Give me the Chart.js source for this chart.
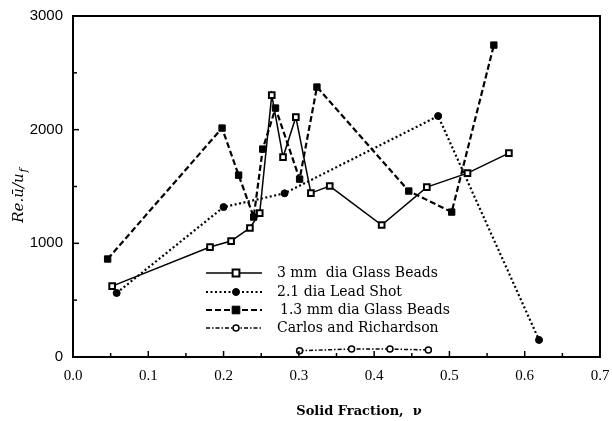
<!DOCTYPE html>
<html>
<head>
<meta charset="utf-8">
<script src="https://cdn.jsdelivr.net/npm/chart.js@4/dist/chart.umd.min.js"></script>
<style>
  html, body { margin: 0; padding: 0; background: #fff; }
  #wrap { width: 612px; height: 421px; position: relative; }
</style>
</head>
<body>
<div id="wrap"><canvas id="c"></canvas></div>
<script>
// ---- data ----
const seriesNames = ['3 mm  dia Glass Beads', '2.1 dia Lead Shot', '1.3 mm dia Glass Beads', 'Carlos and Richardson'];

const glass3X = [0.052, 0.182, 0.210, 0.235, 0.248, 0.264, 0.279, 0.296, 0.316, 0.341, 0.410, 0.470, 0.524, 0.579];
const glass3Y = [624, 967, 1020, 1135, 1266, 2304, 1759, 2111, 1442, 1504, 1161, 1495, 1618, 1794];

const leadX = [0.058, 0.200, 0.281, 0.485, 0.619];
const leadY = [563, 1319, 1440, 2120, 150];

const glass13X = [0.046, 0.198, 0.220, 0.240, 0.252, 0.269, 0.301, 0.324, 0.446, 0.503, 0.559];
const glass13Y = [862, 2014, 1600, 1231, 1829, 2190, 1565, 2375, 1460, 1275, 2744];

const carlosX = [0.301, 0.370, 0.421, 0.472];
const carlosY = [55, 70, 70, 62];

const xTickLabels = ['0.0', '0.1', '0.2', '0.3', '0.4', '0.5', '0.6', '0.7'];
const yTickLabels = ['0', '1000', '2000', '3000'];
const xTitle = 'Solid Fraction,  \u03BD';

function pts(xs, ys) { return xs.map((x, i) => ({ x: x, y: ys[i] })); }

const framePlugin = {
  id: 'frame',
  afterDraw(chart) {
    const { ctx, chartArea: a, scales } = chart;
    ctx.save();
    ctx.strokeStyle = '#000';
    ctx.lineWidth = 2;
    ctx.strokeRect(a.left, a.top, a.right - a.left, a.bottom - a.top);
    ctx.lineWidth = 1.5;
    // x ticks (inward)
    for (let k = 0; k <= 14; k++) {
      const v = k * 0.05;
      const px = scales.x.getPixelForValue(v);
      const len = (k % 2 === 0) ? 6 : 4;
      ctx.beginPath(); ctx.moveTo(px, a.bottom); ctx.lineTo(px, a.bottom - len); ctx.stroke();
    }
    // y ticks (inward)
    for (let k = 0; k <= 6; k++) {
      const v = k * 500;
      const py = scales.y.getPixelForValue(v);
      const len = (k % 2 === 0) ? 6 : 4;
      ctx.beginPath(); ctx.moveTo(a.left, py); ctx.lineTo(a.left + len, py); ctx.stroke();
    }
    // x title
    ctx.fillStyle = '#000';
    ctx.font = '600 13px "DejaVu Serif"';
    ctx.textAlign = 'center';
    ctx.textBaseline = 'middle';
    ctx.fillText(xTitle, 359, 412);
    // y title (rotated, with subscript)
    ctx.translate(18, 196);
    ctx.rotate(-Math.PI / 2);
    ctx.textAlign = 'left';
    ctx.textBaseline = 'alphabetic';
    const main = 'Re.\u016B/u';
    const sub = 'f';
    ctx.font = 'italic 15px "DejaVu Serif"';
    const wMain = ctx.measureText(main).width;
    ctx.font = 'italic 11px "DejaVu Serif"';
    const wSub = ctx.measureText(sub).width;
    const start = -(wMain + wSub) / 2;
    ctx.font = 'italic 15px "DejaVu Serif"';
    ctx.fillText(main, start, 5);
    ctx.font = 'italic 11px "DejaVu Serif"';
    ctx.fillText(sub, start + wMain + 1, 9);
    ctx.restore();

    // legend
    ctx.save();
    const rowsY = [273, 292, 310, 328];
    chart.data.datasets.forEach((ds, i) => {
      const y = rowsY[i];
      ctx.strokeStyle = '#000';
      ctx.lineWidth = ds.borderWidth;
      ctx.setLineDash(ds.borderDash || []);
      ctx.beginPath(); ctx.moveTo(206, y); ctx.lineTo(262, y); ctx.stroke();
      ctx.setLineDash([]);
      ctx.fillStyle = ds.pointBackgroundColor;
      ctx.strokeStyle = '#000';
      ctx.lineWidth = ds.pointBorderWidth;
      ctx.beginPath();
      if (ds.pointStyle === 'rect') {
        const r = ds.pointRadius * 0.85;
        ctx.rect(236 - r, y - r, 2 * r, 2 * r);
      } else {
        ctx.arc(236, y, ds.pointRadius, 0, Math.PI * 2);
      }
      ctx.fill(); ctx.stroke();
      ctx.fillStyle = '#000';
      ctx.font = '14px "DejaVu Serif"';
      ctx.textAlign = 'left';
      ctx.textBaseline = 'middle';
      ctx.fillText(ds.label, i === 2 ? 280 : 277, y);
    });
    ctx.restore();
  }
};

new Chart(document.getElementById('c'), {
  type: 'scatter',
  data: {
    datasets: [
      { label: seriesNames[0], data: pts(glass3X, glass3Y), showLine: true,
        borderColor: '#000', borderWidth: 1.5, borderDash: [],
        pointStyle: 'rect', pointRadius: 4, pointBorderWidth: 2,
        pointBackgroundColor: '#fff', pointBorderColor: '#000' },
      { label: seriesNames[1], data: pts(leadX, leadY), showLine: true,
        borderColor: '#000', borderWidth: 2.2, borderDash: [2, 2.5],
        pointStyle: 'circle', pointRadius: 3.5, pointBorderWidth: 1,
        pointBackgroundColor: '#000', pointBorderColor: '#000' },
      { label: seriesNames[2], data: pts(glass13X, glass13Y), showLine: true,
        borderColor: '#000', borderWidth: 2.2, borderDash: [6, 3],
        pointStyle: 'rect', pointRadius: 4.5, pointBorderWidth: 1,
        pointBackgroundColor: '#000', pointBorderColor: '#000' },
      { label: seriesNames[3], data: pts(carlosX, carlosY), showLine: true,
        borderColor: '#000', borderWidth: 1.5, borderDash: [4, 2, 1.5, 2],
        pointStyle: 'circle', pointRadius: 3, pointBorderWidth: 1.5,
        pointBackgroundColor: '#fff', pointBorderColor: '#000' }
    ]
  },
  options: {
    responsive: true,
    maintainAspectRatio: false,
    animation: false,
    devicePixelRatio: 1,
    layout: { padding: { left: 0, right: 12, top: 16, bottom: 0 } },
    plugins: { legend: { display: false }, tooltip: { enabled: false }, title: { display: false } },
    elements: { line: { tension: 0 } },
    scales: {
      x: {
        type: 'linear', min: 0, max: 0.7,
        grid: { display: false, drawTicks: false },
        border: { display: false },
        ticks: { stepSize: 0.1, padding: 10, color: '#000',
          font: { family: '"Liberation Serif"', size: 15 },
          callback: v => xTickLabels[Math.round(v * 10)] },
        afterFit: s => { s.height = 64; s.paddingRight = 0; s.paddingLeft = 0; }
      },
      y: {
        type: 'linear', min: 0, max: 3000,
        grid: { display: false, drawTicks: false },
        border: { display: false },
        ticks: { stepSize: 1000, padding: 10, color: '#000',
          font: { family: '"Liberation Sans"', size: 15 },
          callback: v => yTickLabels[Math.round(v / 1000)] },
        afterFit: s => { s.width = 73; s.paddingTop = 0; s.paddingBottom = 0; }
      }
    }
  },
  plugins: [framePlugin]
});
</script>
</body>
</html>
